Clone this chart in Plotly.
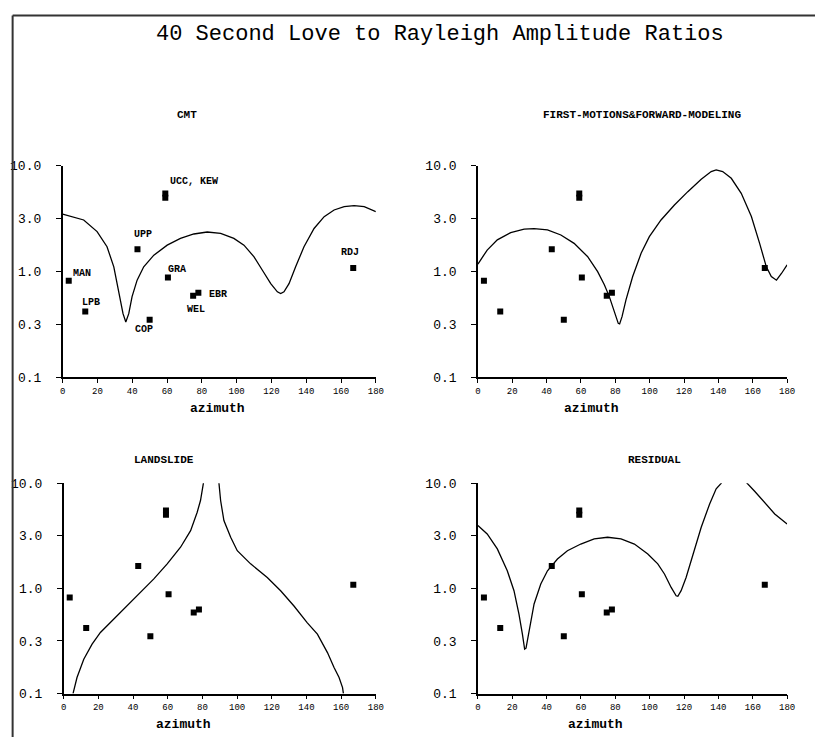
import plotly.graph_objects as go
import math

# ---- station observations (same in every panel) ----
stations = ["MAN", "LPB", "COP", "UPP", "UCC", "KEW", "GRA", "WEL", "EBR", "RDJ"]
obs_az = [3.5, 13, 50, 43, 59, 59, 60.5, 75, 78, 167]
obs_ratio = [0.82, 0.42, 0.35, 1.63, 5.5, 5.0, 0.88, 0.59, 0.63, 1.08]

# ---- predicted curves ----
cmt_az = [0, 12.1, 19.8, 25.5, 29.4, 32.2, 34.7, 36.3, 38.0, 39.9, 42.8, 46.6, 52.4, 60.1,
          67.7, 75.4, 83.1, 90.8, 98.4, 104.2, 110.0, 114.8, 119.6, 123.4, 125.3, 127.2,
          130.1, 133.9, 138.7, 144.5, 150.3, 156.0, 161.8, 167.5, 173.3, 180]
cmt_ratio = [3.5, 3.08, 2.39, 1.72, 1.11, 0.67, 0.40, 0.334, 0.40, 0.58, 0.83, 1.11, 1.43, 1.78,
             2.06, 2.27, 2.37, 2.30, 2.06, 1.78, 1.38, 1.03, 0.77, 0.644, 0.62, 0.644,
             0.77, 1.11, 1.72, 2.56, 3.31, 3.83, 4.12, 4.21, 4.12, 3.69]

fm_az = [0, 5.4, 11.3, 19.1, 26.9, 32.7, 40.5, 48.3, 56.0, 63.8, 69.7, 73.6, 76.5, 79.4,
         81.7, 82.5, 83.9, 86.2, 90.1, 95.0, 99.8, 106.6, 114.4, 122.2, 130.0, 135.8,
         138.7, 142.5, 147.5, 153.3, 159.2, 164.0, 167.9, 170.8, 173.8, 176.7, 180]
fm_ratio = [1.18, 1.60, 2.0, 2.34, 2.52, 2.55, 2.48, 2.22, 1.85, 1.39, 1.0, 0.75, 0.58, 0.42,
            0.324, 0.32, 0.375, 0.54, 0.90, 1.49, 2.14, 3.08, 4.27, 5.71, 7.48, 8.84,
            9.17, 8.84, 7.64, 5.51, 3.32, 1.85, 1.11, 0.90, 0.83, 0.96, 1.16]

ls_az = [5.4, 7.7, 11.6, 16.4, 21.2, 28.9, 36.6, 44.3, 52.0, 59.7, 67.4, 73.2, 77.0, 78.9,
         80.5, 81.0, None,
         89.3, 89.5, 90.5, 92.4, 96.3, 100.1, 107.8, 117.4, 125.1, 132.8, 140.5, 146.3,
         152.1, 155.9, 158.8, 160.8, 161.3]
ls_ratio = [0.1, 0.142, 0.212, 0.295, 0.381, 0.51, 0.68, 0.92, 1.23, 1.71, 2.46, 3.54, 5.30, 6.84,
            9.16, 11.0, None,
            11.0, 9.8, 6.84, 4.41, 3.06, 2.28, 1.71, 1.27, 0.95, 0.68, 0.47, 0.367,
            0.245, 0.177, 0.142, 0.114, 0.1]

res_az = [0, 5.4, 11.3, 17.1, 21.0, 23.9, 25.9, 27.2, 28.0, 29.8, 32.7, 36.6, 40.5, 46.3,
          52.1, 59.9, 67.7, 75.5, 83.3, 91.1, 98.9, 104.7, 108.6, 112.5, 115.4, 116.4,
          118.3, 121.2, 125.1, 130.0, 134.9, 138.7, 141.7, 143.0, None,
          154.5, 155.7, 161.1, 167.0, 172.8, 180]
res_ratio = [3.95, 3.29, 2.37, 1.47, 0.95, 0.57, 0.367, 0.264, 0.27, 0.395, 0.71, 1.10, 1.47, 1.90,
             2.28, 2.64, 2.95, 3.06, 2.95, 2.64, 2.12, 1.71, 1.37, 1.02, 0.85, 0.84,
             0.95, 1.27, 2.12, 3.81, 6.35, 8.84, 10.0, 11.5, None,
             11.5, 10.4, 8.39, 6.59, 5.10, 4.10]

panel_titles = ["CMT", "FIRST-MOTIONS&FORWARD-MODELING", "LANDSLIDE", "RESIDUAL"]
y_tickvals = [0.1, math.sqrt(0.1), 1.0, math.sqrt(10.0), 10.0]
y_ticktext = ["0.1", "0.3", "1.0", "3.0", "10.0"]
x_tickvals = list(range(0, 181, 20))
main_title = "40 Second Love to Rayleigh Amplitude Ratios"

W, H = 823, 738
FONT = "Liberation Mono, Courier New, monospace"

# map a reference-picture pixel to a fraction of the figure
def px(xr):
    xf = (xr - 2.5) / 0.986 - 8
    return xf / W

def py(yr):
    yf = (yr - 6.5) / 0.978 - 8
    return 1 - yf / H

domains = [
    ([px(62), px(375)], [py(377), py(166)]),
    ([px(477), px(786)], [py(377), py(166)]),
    ([px(63), px(375)], [py(692.7), py(482.7)]),
    ([px(477), px(786)], [py(692.7), py(482.7)]),
]
curves = [(cmt_az, cmt_ratio), (fm_az, fm_ratio), (ls_az, ls_ratio), (res_az, res_ratio)]

fig = go.Figure()
layout = {}
for i, ((xd, yd), (cx, cy)) in enumerate(zip(domains, curves)):
    n = "" if i == 0 else str(i + 1)
    xa, ya = "x" + n, "y" + n
    fig.add_trace(go.Scatter(x=cx, y=cy, mode="lines", xaxis=xa, yaxis=ya,
                             line=dict(color="black", width=1.3), connectgaps=False,
                             showlegend=False, hoverinfo="skip"))
    fig.add_trace(go.Scatter(x=obs_az, y=obs_ratio, mode="markers", xaxis=xa, yaxis=ya,
                             marker=dict(symbol="square", size=6, color="black"),
                             showlegend=False, text=stations))
    layout["xaxis" + n] = dict(domain=xd, anchor=ya, range=[0, 180], tickvals=x_tickvals,
                               showgrid=False, zeroline=False, showline=True, linecolor="black",
                               linewidth=1.5, ticks="outside", ticklen=4, tickcolor="black",
                               tickfont=dict(family=FONT, size=9, color="black"))
    layout["yaxis" + n] = dict(domain=yd, anchor=xa, type="log", range=[-1, 1],
                               tickvals=y_tickvals, ticktext=y_ticktext,
                               showgrid=False, zeroline=False, showline=True, linecolor="black",
                               linewidth=1.5, ticks="outside", ticklen=5, tickcolor="black",
                               ticklabelstandoff=12,
                               tickfont=dict(family=FONT, size=13, color="black"))

annotations = []
def note(text, x, y, size, xref="paper", yref="paper"):
    annotations.append(dict(text=text, x=x, y=y, xref=xref, yref=yref, showarrow=False,
                            xanchor="center", yanchor="middle",
                            font=dict(family=FONT, size=size, color="black")))

note(main_title, px(439), py(35), 22)
title_pos = [(186, 115), (641, 115), (163, 460), (653, 460)]
for t, (tx, ty) in zip(panel_titles, title_pos):
    note("<b>" + t + "</b>", px(tx), py(ty), 11)
az_pos = [(217, 408), (591, 408), (183, 724), (595, 724)]
for (tx, ty) in az_pos:
    note("<b>azimuth</b>", px(tx), py(ty), 13)

# station labels in CMT panel (azimuth, log10 ratio)
lab_text = ["MAN", "LPB", "UCC, KEW", "UPP", "GRA", "EBR", "WEL", "COP", "RDJ"]
lab_x = [11.3, 16.5, 75.3, 46.4, 65.5, 89.0, 76.5, 46.8, 165.2]
lab_y = [-0.014, -0.289, 0.848, 0.349, 0.017, -0.213, -0.355, -0.545, 0.185]
for t, lx, ly in zip(lab_text, lab_x, lab_y):
    note("<b>" + t + "</b>", lx, ly, 10, xref="x", yref="y")

frame_x = max(px(11), 0.002)
frame_y = 0.998
shapes = [
    dict(type="line", xref="paper", yref="paper", x0=frame_x, x1=1, y0=frame_y, y1=frame_y,
         line=dict(color="#333", width=2)),
    dict(type="line", xref="paper", yref="paper", x0=frame_x, x1=frame_x, y0=frame_y, y1=0,
         line=dict(color="#333", width=2)),
]

fig.update_layout(width=W, height=H, margin=dict(l=0, r=0, t=0, b=0),
                  paper_bgcolor="white", plot_bgcolor="white",
                  font=dict(family=FONT, color="black"),
                  annotations=annotations, shapes=shapes, **layout)
fig.write_html("out.html")
